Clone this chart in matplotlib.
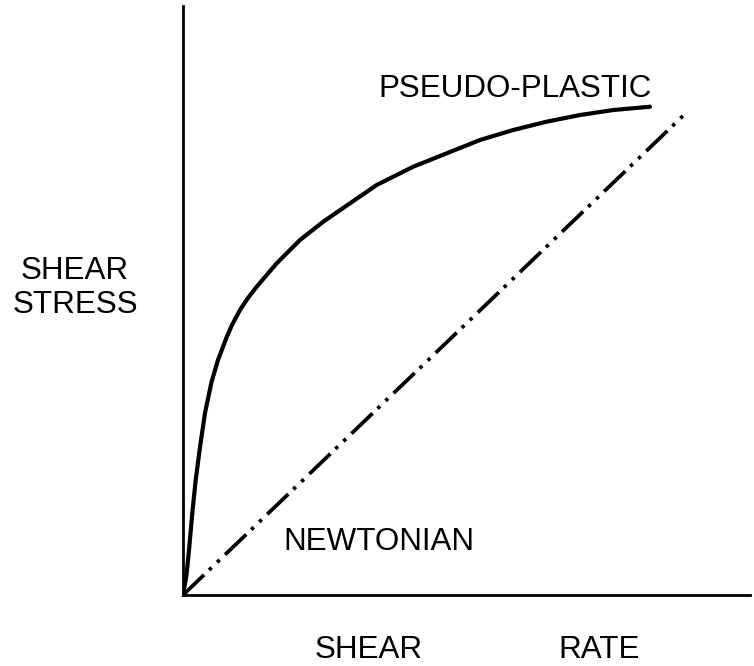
import matplotlib
matplotlib.use("Agg")
import matplotlib.pyplot as plt

# --- data (0-100 arbitrary units) ---
pseudo_x = [0.0, 0.62, 1.06, 1.64, 2.24, 3.00, 3.88, 5.03, 6.17, 7.71, 8.64,
            10.05, 11.46, 13.00, 16.53, 20.63, 24.74, 29.45, 34.16, 40.62,
            46.51, 52.38, 58.25, 64.14, 70.02, 75.89, 82.36]
pseudo_y = [0.0, 3.40, 7.64, 13.92, 19.52, 25.13, 30.90, 36.16, 39.90, 43.80,
            45.84, 48.39, 50.42, 52.34, 56.32, 60.27, 63.38, 66.50, 69.61,
            72.72, 74.99, 77.25, 78.95, 80.36, 81.49, 82.34, 82.90]
newton_x = [0.0, 88.89]
newton_y = [0.0, 82.00]

plt.rcParams['font.family'] = ['Liberation Sans', 'DejaVu Sans']
plt.rcParams['lines.scale_dashes'] = False
FS = 22.6

fig = plt.figure(figsize=(7.54, 6.66), dpi=100)
ax = fig.add_axes([183 / 754, 1 - 595 / 666, 567 / 754, 589 / 666])
ax.set_xlim(0, 100)
ax.set_ylim(0, 100)

ax.plot(pseudo_x, pseudo_y, color='black', lw=3.0, solid_capstyle='round',
        solid_joinstyle='round')
# dash - dot - dot
ax.plot(newton_x, newton_y, color='black', lw=2.7,
        linestyle=(0, (21, 5, 2.5, 5.5, 2.5, 5.5)))

for side in ['top', 'right']:
    ax.spines[side].set_visible(False)
for side in ['left', 'bottom']:
    ax.spines[side].set_linewidth(2.0)
ax.set_xticks([])
ax.set_yticks([])

# --- labels ---
fig.text(378 / 754, 1 - 97 / 666, 'PSEUDO-PLASTIC', fontsize=FS, va='baseline')
fig.text(283 / 754, 1 - 550 / 666, 'NEWTONIAN', fontsize=FS, va='baseline')
fig.text(75 / 754, 1 - 279 / 666, 'SHEAR', fontsize=FS, ha='center', va='baseline')
fig.text(75 / 754, 1 - 313 / 666, 'STRESS', fontsize=FS, ha='center', va='baseline')
fig.text(315 / 754, 1 - 658 / 666, 'SHEAR', fontsize=FS, va='baseline')
fig.text(558 / 754, 1 - 658 / 666, 'RATE', fontsize=FS, va='baseline')

fig.savefig('out.png', dpi=100)
